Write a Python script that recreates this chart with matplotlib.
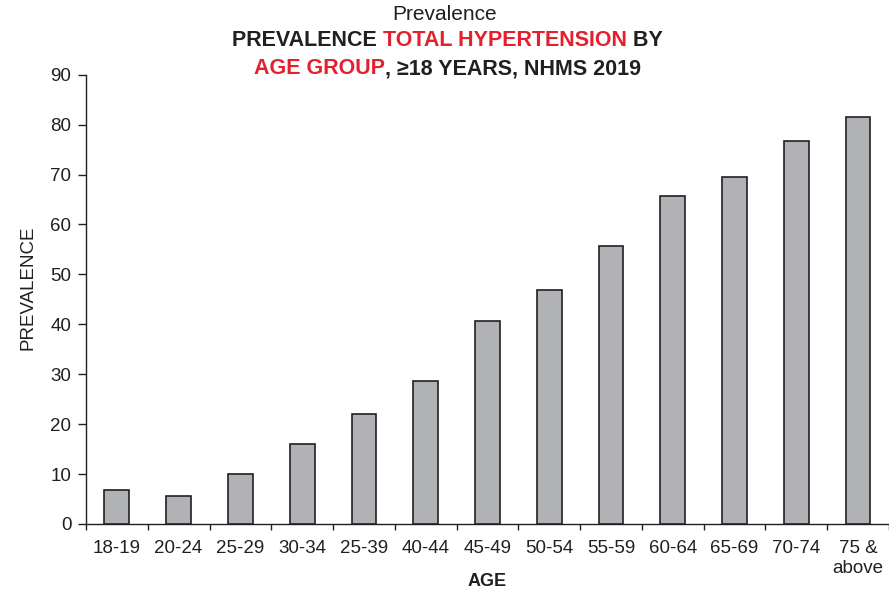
import numpy as np
import matplotlib
matplotlib.use("Agg")
import matplotlib.pyplot as plt

# ---- data ----
AGE_GROUPS = ["18-19", "20-24", "25-29", "30-34", "25-39", "40-44", "45-49",
              "50-54", "55-59", "60-64", "65-69", "70-74", "75 &\nabove"]
PREVALENCE = [6.8, 5.7, 10.1, 16.0, 22.1, 28.7, 40.6,
              46.8, 55.6, 65.7, 69.5, 76.7, 81.6]

# ---- style ----
DARK = "#231f20"
RED = "#e5202e"
BAR_FILL = "#b1b2b6"
FONT = "Liberation Sans"

plt.rcParams["font.family"] = [FONT, "DejaVu Sans"]
plt.rcParams["text.color"] = DARK

fig = plt.figure(figsize=(8.89, 5.92), dpi=100)
ax = fig.add_axes([0.0967, 0.1149, 0.9033, 0.7589])

x = np.arange(len(AGE_GROUPS))
ax.bar(x, PREVALENCE, width=0.4, color=BAR_FILL, edgecolor=DARK,
       linewidth=1.2, zorder=3)

ax.set_xlim(-0.5, len(AGE_GROUPS) - 0.5)
ax.set_ylim(0, 90)
ax.set_yticks(np.arange(0, 91, 10))

# ticks sit between the categories, labels under the bars
ax.set_xticks(np.arange(-0.5, len(AGE_GROUPS), 1))
ax.set_xticklabels([])
ax.set_xticks(x, minor=True)
ax.set_xticklabels(AGE_GROUPS, minor=True, fontsize=13.5, color=DARK,
                   linespacing=1.25, va="top")
ax.tick_params(axis="x", which="major", length=4.5, width=1.0, color=DARK,
               direction="out")
ax.tick_params(axis="x", which="minor", length=0, pad=11.5)
ax.tick_params(axis="y", length=6, width=1.0, color=DARK, pad=4.5,
               labelsize=13.5, labelcolor=DARK)

for side in ("top", "right"):
    ax.spines[side].set_visible(False)
for side in ("left", "bottom"):
    ax.spines[side].set_color(DARK)
    ax.spines[side].set_linewidth(1.0)

ax.set_ylabel("PREVALENCE", fontsize=13.5, color=DARK)
ax.yaxis.set_label_coords(-0.0615, 0.525)
ax.set_xlabel("AGE", fontsize=13, fontweight="bold", color=DARK, va="center")
ax.xaxis.set_label_coords(0.5, -0.128)


def colored_line(y, parts, size=15.5, weight="bold"):
    """Draw a centred title line made of differently coloured pieces."""
    renderer = fig.canvas.get_renderer()
    texts, widths = [], []
    for s, c in parts:
        t = fig.text(0, y, s, color=c, fontsize=size, fontweight=weight,
                     ha="left", va="center")
        w = t.get_window_extent(renderer=renderer).width
        texts.append(t)
        widths.append(w)
    total = sum(widths)
    figw = fig.bbox.width
    left = 0.5 * figw + 3 - total / 2
    for t, w in zip(texts, widths):
        t.set_x(left / figw)
        left += w


fig.text(0.5, 1 - 15 / 592, "Prevalence", fontsize=15, ha="center",
         va="center", color=DARK)
colored_line(1 - 41 / 592, [("PREVALENCE ", DARK),
                            ("TOTAL HYPERTENSION", RED),
                            (" BY", DARK)])
colored_line(1 - 69 / 592, [("AGE GROUP", RED),
                            (", \u226518 YEARS, NHMS 2019", DARK)])

fig.savefig("out.png", dpi=100)
